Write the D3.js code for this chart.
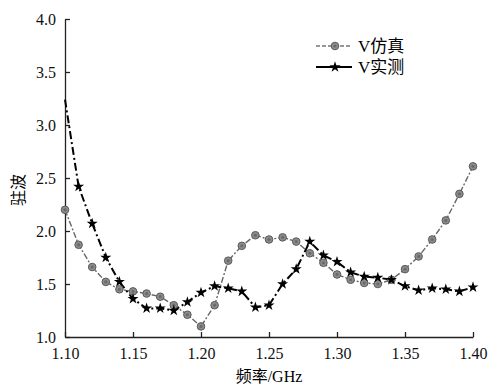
<!DOCTYPE html>
<html>
<head>
<meta charset="utf-8">
<script src="https://cdn.jsdelivr.net/npm/d3@7"></script>
<style>
  html, body { margin: 0; padding: 0; background: #fff; }
</style>
</head>
<body>
<div id="chart"></div>
<script>
// frequency points (GHz)
const freqs = [1.10, 1.11, 1.12, 1.13, 1.14, 1.15, 1.16, 1.17, 1.18, 1.19,
  1.20, 1.21, 1.22, 1.23, 1.24, 1.25, 1.26, 1.27, 1.28, 1.29,
  1.30, 1.31, 1.32, 1.33, 1.34, 1.35, 1.36, 1.37, 1.38, 1.39, 1.40];

// VSWR, simulation
const vswrSim = [2.20, 1.87, 1.66, 1.52, 1.45, 1.43, 1.41, 1.38, 1.30, 1.21,
  1.10, 1.30, 1.72, 1.86, 1.96, 1.92, 1.94, 1.90, 1.79, 1.70,
  1.59, 1.54, 1.51, 1.50, 1.54, 1.64, 1.76, 1.92, 2.10, 2.35, 2.61];

// VSWR, measured
const vswrMeas = [3.24, 2.42, 2.07, 1.75, 1.52, 1.36, 1.27, 1.27, 1.25, 1.33,
  1.42, 1.48, 1.46, 1.43, 1.28, 1.30, 1.50, 1.64, 1.90, 1.77,
  1.71, 1.61, 1.57, 1.56, 1.54, 1.48, 1.44, 1.46, 1.45, 1.43, 1.47];

const xTicks = [1.10, 1.15, 1.20, 1.25, 1.30, 1.35, 1.40];
const yTicks = [1.0, 1.5, 2.0, 2.5, 3.0, 3.5, 4.0];
const seriesNames = ['V仿真', 'V实测'];

// Latin text first through a serif face, CJK falls back to Noto
const serif = '"Liberation Serif", Tinos, "Times New Roman", Times, "DejaVu Serif", serif';
const mixed = '"Liberation Serif", Tinos, "Times New Roman", "DejaVu Serif", "Noto Sans CJK SC", serif';

const width = 496, height = 386;
const margin = { top: 19, right: 23, bottom: 49, left: 65 };
const innerW = width - margin.left - margin.right;
const innerH = height - margin.top - margin.bottom;

const svg = d3.select('#chart').append('svg')
  .attr('width', width)
  .attr('height', height);

const g = svg.append('g')
  .attr('transform', `translate(${margin.left},${margin.top})`);

const x = d3.scaleLinear().domain([1.10, 1.40]).range([0, innerW]);
const y = d3.scaleLinear().domain([1.0, 4.0]).range([innerH, 0]);

// Axes (ticks point inward)
const xAxis = g.append('g')
  .attr('transform', `translate(0,${innerH})`)
  .call(d3.axisBottom(x).tickValues(xTicks).tickSizeInner(-5).tickSizeOuter(0).tickPadding(8).tickFormat(d3.format('.2f')));
const yAxis = g.append('g')
  .call(d3.axisLeft(y).tickValues(yTicks).tickSizeInner(-5).tickSizeOuter(0).tickPadding(9).tickFormat(d3.format('.1f')));

[xAxis, yAxis].forEach(ax => {
  ax.attr('font-family', null);
  ax.selectAll('path, line').attr('stroke', '#222').attr('stroke-width', 1.3);
  ax.selectAll('text').attr('fill', '#111')
    .style('font-family', serif)
    .style('font-size', '16px');
});
xAxis.selectAll('text').attr('dy', '0.9em');

// Axis titles
svg.append('text')
  .attr('x', margin.left + innerW / 2)
  .attr('y', 382)
  .attr('text-anchor', 'middle')
  .style('font-family', mixed)
  .style('font-size', '16px')
  .text('频率/GHz');

svg.append('text')
  .attr('transform', `translate(24,${margin.top + innerH / 2 + 12}) rotate(-90)`)
  .attr('text-anchor', 'middle')
  .style('font-family', mixed)
  .style('font-size', '16px')
  .text('驻波');

const simData = freqs.map((f, i) => ({ f, v: vswrSim[i] }));
const measData = freqs.map((f, i) => ({ f, v: vswrMeas[i] }));

const line = d3.line().x(d => x(d.f)).y(d => y(d.v));

// simulated: grey dash-dot with circles
g.append('path')
  .datum(simData)
  .attr('fill', 'none')
  .attr('stroke', '#666')
  .attr('stroke-width', 1.4)
  .attr('stroke-dasharray', '6,2,2,2')
  .attr('d', line);

// measured: black dash-dot with stars
g.append('path')
  .datum(measData)
  .attr('fill', 'none')
  .attr('stroke', '#000')
  .attr('stroke-width', 2)
  .attr('stroke-dasharray', '8,3,2,3')
  .attr('d', line);

function circleMark(sel) {
  sel.append('circle')
    .attr('r', 3.8)
    .attr('fill', '#8c8c8c')
    .attr('stroke', '#5a5a5a')
    .attr('stroke-width', 1);
  sel.append('circle')
    .attr('r', 1.6)
    .attr('fill', '#6a6a6a');
}

const star = d3.symbol().type(d3.symbolStar).size(38);
function starMark(sel) {
  sel.append('path')
    .attr('d', star)
    .attr('fill', '#000');
}

g.selectAll('.sim-dot')
  .data(simData)
  .join('g')
  .attr('class', 'sim-dot')
  .attr('transform', d => `translate(${x(d.f)},${y(d.v)})`)
  .call(circleMark);

g.selectAll('.meas-dot')
  .data(measData.slice(1))
  .join('g')
  .attr('class', 'meas-dot')
  .attr('transform', d => `translate(${x(d.f)},${y(d.v)})`)
  .call(starMark);

// Legend
const legend = svg.append('g').attr('transform', 'translate(316,46)');
const styles = [
  { stroke: '#777', w: 1.4, dash: '4,2', mark: circleMark },
  { stroke: '#000', w: 2.2, dash: null, mark: starMark }
];
seriesNames.forEach((name, i) => {
  const row = legend.append('g').attr('transform', `translate(0,${i * 21})`);
  row.append('line')
    .attr('x1', 0).attr('x2', 36)
    .attr('stroke', styles[i].stroke)
    .attr('stroke-width', styles[i].w)
    .attr('stroke-dasharray', styles[i].dash);
  row.append('g').attr('transform', 'translate(19,0)').call(styles[i].mark);
  row.append('text')
    .attr('x', 42).attr('y', 6)
    .style('font-family', mixed)
    .style('font-size', '17px')
    .text(name);
});
</script>
</body>
</html>
